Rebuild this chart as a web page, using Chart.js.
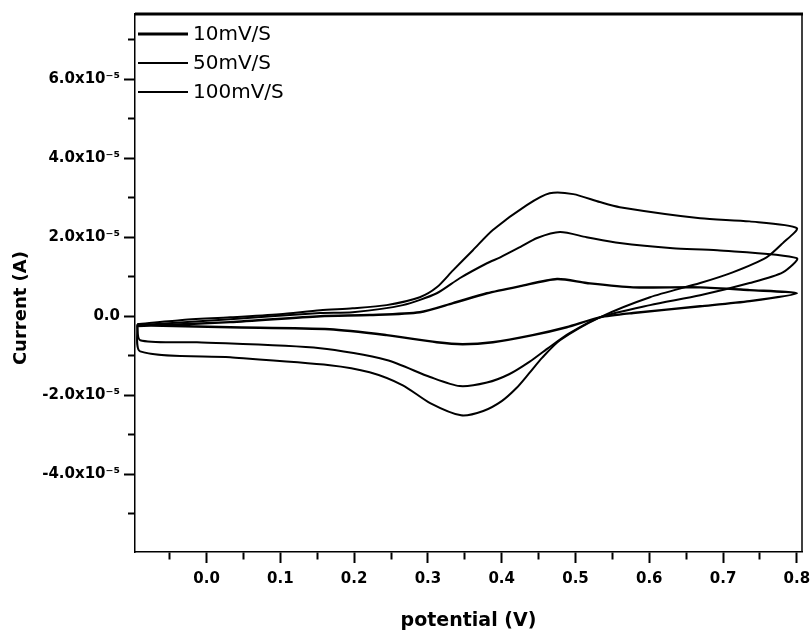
<!DOCTYPE html>
<html>
<head>
<meta charset="utf-8">
<title>CV at different scan rates</title>
<script src="https://cdn.jsdelivr.net/npm/chart.js@4.4.1/dist/chart.umd.min.js"></script>
<style>
  body { margin: 0; background: #fff; }
</style>
</head>
<body>
<canvas id="cvChart" width="811" height="632"></canvas>
<script>
// legend labels (scan rates)
const scanRates = ['10mV/S', '50mV/S', '100mV/S'];

// potential (V) / current (A), forward sweep to 0.8 V then back
const pot10 = [-0.094, 0.032, 0.154, 0.221, 0.289, 0.334, 0.380, 0.425, 0.475, 0.515, 0.578, 0.669, 0.736, 0.800,
               0.736, 0.669, 0.578, 0.533, 0.488, 0.442, 0.388, 0.347, 0.312, 0.244, 0.167, 0.032, -0.090, -0.094];
const cur10 = [-0.25e-5, -0.15e-5, 0.00e-5, 0.03e-5, 0.10e-5, 0.33e-5, 0.58e-5, 0.76e-5, 0.94e-5, 0.84e-5, 0.73e-5, 0.73e-5, 0.66e-5, 0.58e-5,
               0.38e-5, 0.25e-5, 0.08e-5, -0.03e-5, -0.28e-5, -0.48e-5, -0.66e-5, -0.71e-5, -0.66e-5, -0.48e-5, -0.33e-5, -0.28e-5, -0.23e-5, -0.25e-5];

const pot50 = [-0.094, 0.032, 0.154, 0.198, 0.266, 0.312, 0.343, 0.380, 0.398, 0.425, 0.448, 0.479, 0.515, 0.560, 0.632, 0.692, 0.800,
               0.781, 0.736, 0.669, 0.601, 0.533, 0.492, 0.462, 0.438, 0.410, 0.380, 0.343, 0.303, 0.244, 0.154, -0.013, -0.090, -0.094];
const cur50 = [-0.23e-5, -0.08e-5, 0.08e-5, 0.10e-5, 0.28e-5, 0.58e-5, 0.96e-5, 1.34e-5, 1.49e-5, 1.75e-5, 1.98e-5, 2.13e-5, 2.00e-5, 1.85e-5, 1.72e-5, 1.67e-5, 1.47e-5,
               1.11e-5, 0.84e-5, 0.53e-5, 0.28e-5, -0.03e-5, -0.43e-5, -0.82e-5, -1.15e-5, -1.47e-5, -1.68e-5, -1.77e-5, -1.54e-5, -1.11e-5, -0.81e-5, -0.66e-5, -0.61e-5, -0.23e-5];

const pot100 = [-0.094, -0.036, 0.032, 0.099, 0.154, 0.198, 0.244, 0.289, 0.312, 0.334, 0.361, 0.388, 0.434, 0.465, 0.497, 0.533, 0.560, 0.669, 0.736, 0.800,
                0.781, 0.759, 0.713, 0.669, 0.601, 0.533, 0.479, 0.455, 0.437, 0.420, 0.400, 0.375, 0.345, 0.303, 0.266, 0.221, 0.167, 0.032, -0.090, -0.094];
const cur100 = [-0.20e-5, -0.10e-5, -0.03e-5, 0.05e-5, 0.15e-5, 0.20e-5, 0.28e-5, 0.48e-5, 0.73e-5, 1.16e-5, 1.67e-5, 2.18e-5, 2.81e-5, 3.11e-5, 3.09e-5, 2.89e-5, 2.76e-5, 2.48e-5, 2.40e-5, 2.23e-5,
                1.85e-5, 1.49e-5, 1.11e-5, 0.84e-5, 0.48e-5, -0.03e-5, -0.61e-5, -1.05e-5, -1.45e-5, -1.82e-5, -2.15e-5, -2.40e-5, -2.51e-5, -2.20e-5, -1.75e-5, -1.42e-5, -1.24e-5, -1.04e-5, -0.89e-5, -0.20e-5];

const xRange = [-0.097, 0.807];
const yRange = [-5.97e-5, 7.65e-5];

function toPoints(xs, ys) {
  return xs.map((x, i) => ({ x: x, y: ys[i] }));
}

Chart.defaults.font.family = '"DejaVu Sans", sans-serif';
Chart.defaults.color = '#000';

// frame on top/right, legend drawn inside the plot at top-left
const frameAndLegend = {
  id: 'frameAndLegend',
  afterDraw(chart) {
    const { ctx, chartArea: a } = chart;
    ctx.save();
    ctx.strokeStyle = '#000';
    ctx.lineWidth = 3;
    ctx.beginPath();
    ctx.moveTo(a.left, a.top);
    ctx.lineTo(a.right + 1, a.top);
    ctx.stroke();
    ctx.lineWidth = 1.5;
    ctx.beginPath();
    ctx.moveTo(a.right, a.top);
    ctx.lineTo(a.right, a.bottom);
    ctx.stroke();

    chart.data.datasets.forEach((ds, i) => {
      const y = a.top + 20 + i * 29;
      ctx.lineWidth = i === 0 ? 3 : 2;
      ctx.beginPath();
      ctx.moveTo(a.left + 3, y);
      ctx.lineTo(a.left + 53, y);
      ctx.stroke();
      ctx.fillStyle = '#000';
      ctx.font = '20px "DejaVu Sans"';
      ctx.textBaseline = 'middle';
      ctx.fillText(ds.label, a.left + 58, y + 1);
    });
    ctx.restore();
  }
};

const isMajorY = v => Math.round(v / 1e-5) % 2 === 0;
const isMajorX = v => Math.round(v * 100) % 10 === 0;

new Chart(document.getElementById('cvChart'), {
  type: 'scatter',
  data: {
    datasets: [
      { label: scanRates[0], data: toPoints(pot10, cur10), borderWidth: 2.4 },
      { label: scanRates[1], data: toPoints(pot50, cur50), borderWidth: 2 },
      { label: scanRates[2], data: toPoints(pot100, cur100), borderWidth: 2 }
    ].map(d => Object.assign(d, {
      showLine: true, tension: 0.25, pointRadius: 0, borderColor: '#000', backgroundColor: '#000', fill: false
    }))
  },
  options: {
    responsive: false,
    animation: false,
    layout: { padding: { top: 14, right: 9, left: 0, bottom: 0 } },
    plugins: { legend: { display: false }, tooltip: { enabled: false } },
    scales: {
      x: {
        type: 'linear',
        min: xRange[0],
        max: xRange[1],
        afterFit: s => { s.height = 80; s.paddingRight = 0; s.paddingLeft = 0; },
        border: { color: '#000', width: 1.5 },
        grid: {
          drawOnChartArea: false,
          tickLength: 11,
          tickWidth: 2,
          tickColor: '#000',
          tickBorderDash: c => isMajorX(c.tick.value) ? [] : [7, 40]
        },
        ticks: {
          stepSize: 0.05,
          includeBounds: false,
          padding: 7,
          font: { size: 15, weight: 'bold' },
          maxRotation: 0,
          autoSkip: false,
          callback: v => isMajorX(v) ? (Math.abs(v) < 1e-9 ? '0.0' : v.toFixed(1)) : ''
        },
        title: {
          display: true,
          text: 'potential (V)',
          font: { size: 19, weight: 'bold' },
          padding: { top: 4, bottom: 0 }
        }
      },
      y: {
        type: 'linear',
        min: yRange[0],
        max: yRange[1],
        afterFit: s => { s.width = 135; },
        border: { color: '#000', width: 1.5 },
        grid: {
          drawOnChartArea: false,
          tickLength: 11,
          tickWidth: 2,
          tickColor: '#000',
          tickBorderDash: c => isMajorY(c.tick.value) ? [] : [7, 40],
          tickBorderDashOffset: c => isMajorY(c.tick.value) ? 0 : 43
        },
        ticks: {
          stepSize: 1e-5,
          includeBounds: false,
          padding: 4,
          font: { size: 15, weight: 'bold' },
          autoSkip: false,
          callback: v => {
            const n = Math.round(v / 1e-5);
            if (n % 2 !== 0) return '';
            if (n === 0) return '0.0';
            return n.toFixed(1) + 'x10\u207B\u2075';
          }
        },
        title: {
          display: true,
          // trailing spaces nudge the rotated title down like the original
          text: 'Current (A)        ',
          font: { size: 18, weight: 'bold' },
          padding: { top: 11, bottom: 0 }
        }
      }
    }
  },
  plugins: [frameAndLegend]
});
</script>
</body>
</html>
